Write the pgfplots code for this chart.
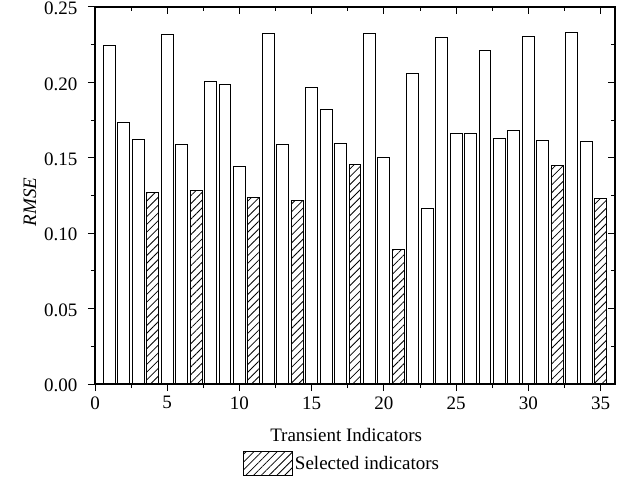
\documentclass[border=0pt]{standalone}
\usepackage{fontspec}
\setmainfont{Liberation Serif}
\usepackage{pgfplots}
\pgfplotsset{compat=1.18}
\usetikzlibrary{patterns.meta}

\begin{document}
\begin{tikzpicture}
\path[use as bounding box] (0,0) rectangle (628bp,480bp);
\pgfplotsset{
  common/.style={
    at={(95bp,96bp)}, anchor=south west,
    width=520bp, height=377bp, scale only axis,
    xmin=0, xmax=36, ymin=0, ymax=0.25,
    xtick={0,5,...,35}, ytick={0,0.05,...,0.25},
    minor x tick num=1, minor y tick num=1,
    major tick length=7bp, minor tick length=4bp,
    axis line style={line width=1.1bp},
    every tick/.style={line width=1bp, black},
    font=\fontsize{19bp}{22bp}\selectfont,
    tick label style={font=\fontsize{19bp}{22bp}\selectfont},
    /pgf/number format/assume math mode=true,
  }
}
\begin{axis}[common,
  tick pos=left, tick align=outside,
  yticklabel style={xshift=-7bp, yshift=-1.5bp, /pgf/number format/fixed, /pgf/number format/fixed zerofill, /pgf/number format/precision=2},
  xticklabel style={yshift=-2bp},
  scaled y ticks=false,
  xlabel={Transient Indicators},
  ylabel={\textit{RMSE}},
  every axis x label/.style={at={(rel axis cs:0.483,-0.135)}, anchor=center},
  every axis y label/.style={at={(rel axis cs:-0.125,0.483)}, anchor=center, rotate=90},
  ybar, bar shift=0pt, bar width=0.82,
  legend style={at={(rel axis cs:0.475,-0.212)}, anchor=center, draw=none, fill=none,
    font=\fontsize{19bp}{22bp}\selectfont},
  legend image code/.code={\draw[#1, line width=1bp] (0bp,-12bp) rectangle (49bp,12bp);},
]
\addplot[draw=black, fill=white, line width=1bp, forget plot] coordinates {
(1,0.2248) (2,0.1733) (3,0.1623) (5,0.2319) (6,0.1585) (8,0.2005) (9,0.1989)
(10,0.1441) (12,0.2326) (13,0.1585) (15,0.1967) (16,0.1817) (17,0.1592)
(19,0.2321) (20,0.1503) (22,0.2056) (23,0.1167) (24,0.2297) (25,0.1658)
(26,0.1658) (27,0.2210) (28,0.1627) (29,0.1680) (30,0.2303) (31,0.1614)
(33,0.2332) (34,0.1611)
};
\addplot[draw=black, fill=white, line width=1bp,
  postaction={pattern={Lines[angle=45,distance=5.5bp,line width=0.8bp]}, pattern color=black}]
coordinates {
(4,0.1271) (7,0.1282) (11,0.1238) (14,0.1220) (18,0.1454) (21,0.0895) (32,0.1448) (35,0.1233)
};
\addlegendentry{Selected indicators}
\end{axis}
\begin{axis}[common,
  tick pos=right, tick align=inside,
  xticklabels={}, yticklabels={},
]
\end{axis}
\end{tikzpicture}
\end{document}
